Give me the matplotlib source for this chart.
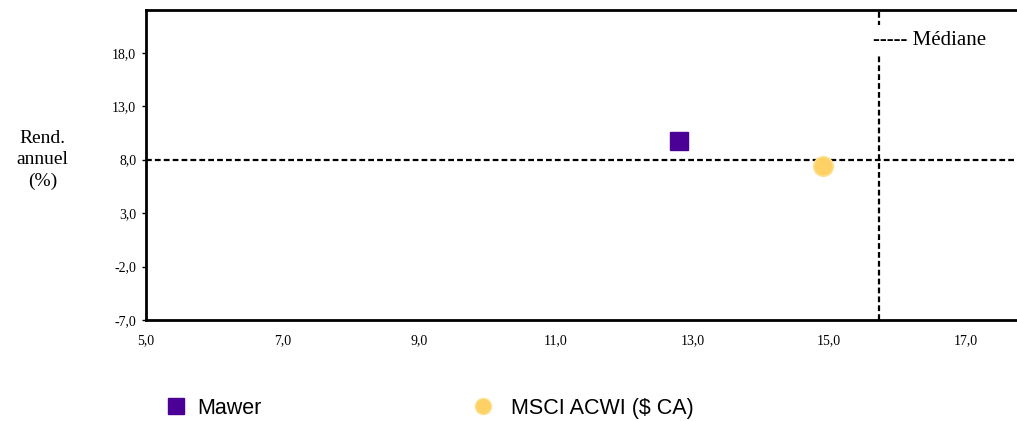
import matplotlib.pyplot as plt
from matplotlib.lines import Line2D

# data (risk in x, annual return in y)
names = ['Mawer', 'MSCI ACWI ($ CA)']
risk = [12.80, 14.91]
ret = [9.76, 7.37]
median_x = 15.73
median_y = 7.98
xticks = [5, 7, 9, 11, 13, 15, 17]
yticks = [-7, -2, 3, 8, 13, 18]

purple = '#4B0096'
gold = '#FDD166'

fig = plt.figure(figsize=(10.17, 4.21), dpi=100)
ax = fig.add_axes([0.1436, 0.2399, 0.8564, 0.7363])

ax.set_xlim(5, 17.75)
ax.set_ylim(-7, 22)

dash = (0, (2.6, 1.4))
ax.axhline(median_y, color='black', lw=1.6, linestyle=dash, zorder=1)
ax.axvline(median_x, color='black', lw=1.6, linestyle=dash, zorder=1)

ax.plot(risk[0], ret[0], marker='s', ms=13.5, color=purple, mec=purple, ls='none', zorder=3)
ax.plot(risk[1], ret[1], marker='o', ms=14, color=gold, mec='#FCE08E', mew=1.2, ls='none', zorder=3)

ax.text(0.90, 0.903, '----- Médiane', transform=ax.transAxes, ha='center', va='center',
        fontsize=15, family='Liberation Serif',
        bbox=dict(facecolor='white', edgecolor='none', pad=4), zorder=4)

ax.set_xticks(xticks)
ax.set_yticks(yticks)
ax.set_xticklabels([f'{v:.1f}'.replace('.', ',') for v in xticks], family='Liberation Serif', fontsize=10)
ax.set_yticklabels([f'{v:.1f}'.replace('.', ',') for v in yticks], family='Liberation Serif', fontsize=10)
ax.tick_params(axis='x', length=0, pad=10)
ax.tick_params(axis='y', length=3, width=1, pad=4)

for s in ['left', 'top', 'bottom']:
    ax.spines[s].set_linewidth(2)
ax.spines['right'].set_visible(False)

fig.text(0.042, 0.62, 'Rend.\nannuel\n(%)', ha='center', va='center', fontsize=14,
         family='Liberation Serif', linespacing=1.35)

h1 = Line2D([], [], marker='s', ms=11, color=purple, ls='none')
h2 = Line2D([], [], marker='o', ms=11.5, color=gold, mec='#FCE08E', ls='none')
fig.legend([h1], [names[0]], loc='center left', bbox_to_anchor=(0.143, 0.03),
           frameon=False, prop={'family': 'Liberation Sans', 'size': 15.5},
           handlelength=1.0, handletextpad=0.5)
fig.legend([h2], [names[1]], loc='center left', bbox_to_anchor=(0.445, 0.03),
           frameon=False, prop={'family': 'Liberation Sans', 'size': 15.5},
           handlelength=1.0, handletextpad=0.8)

fig.savefig('out.png', dpi=100)
